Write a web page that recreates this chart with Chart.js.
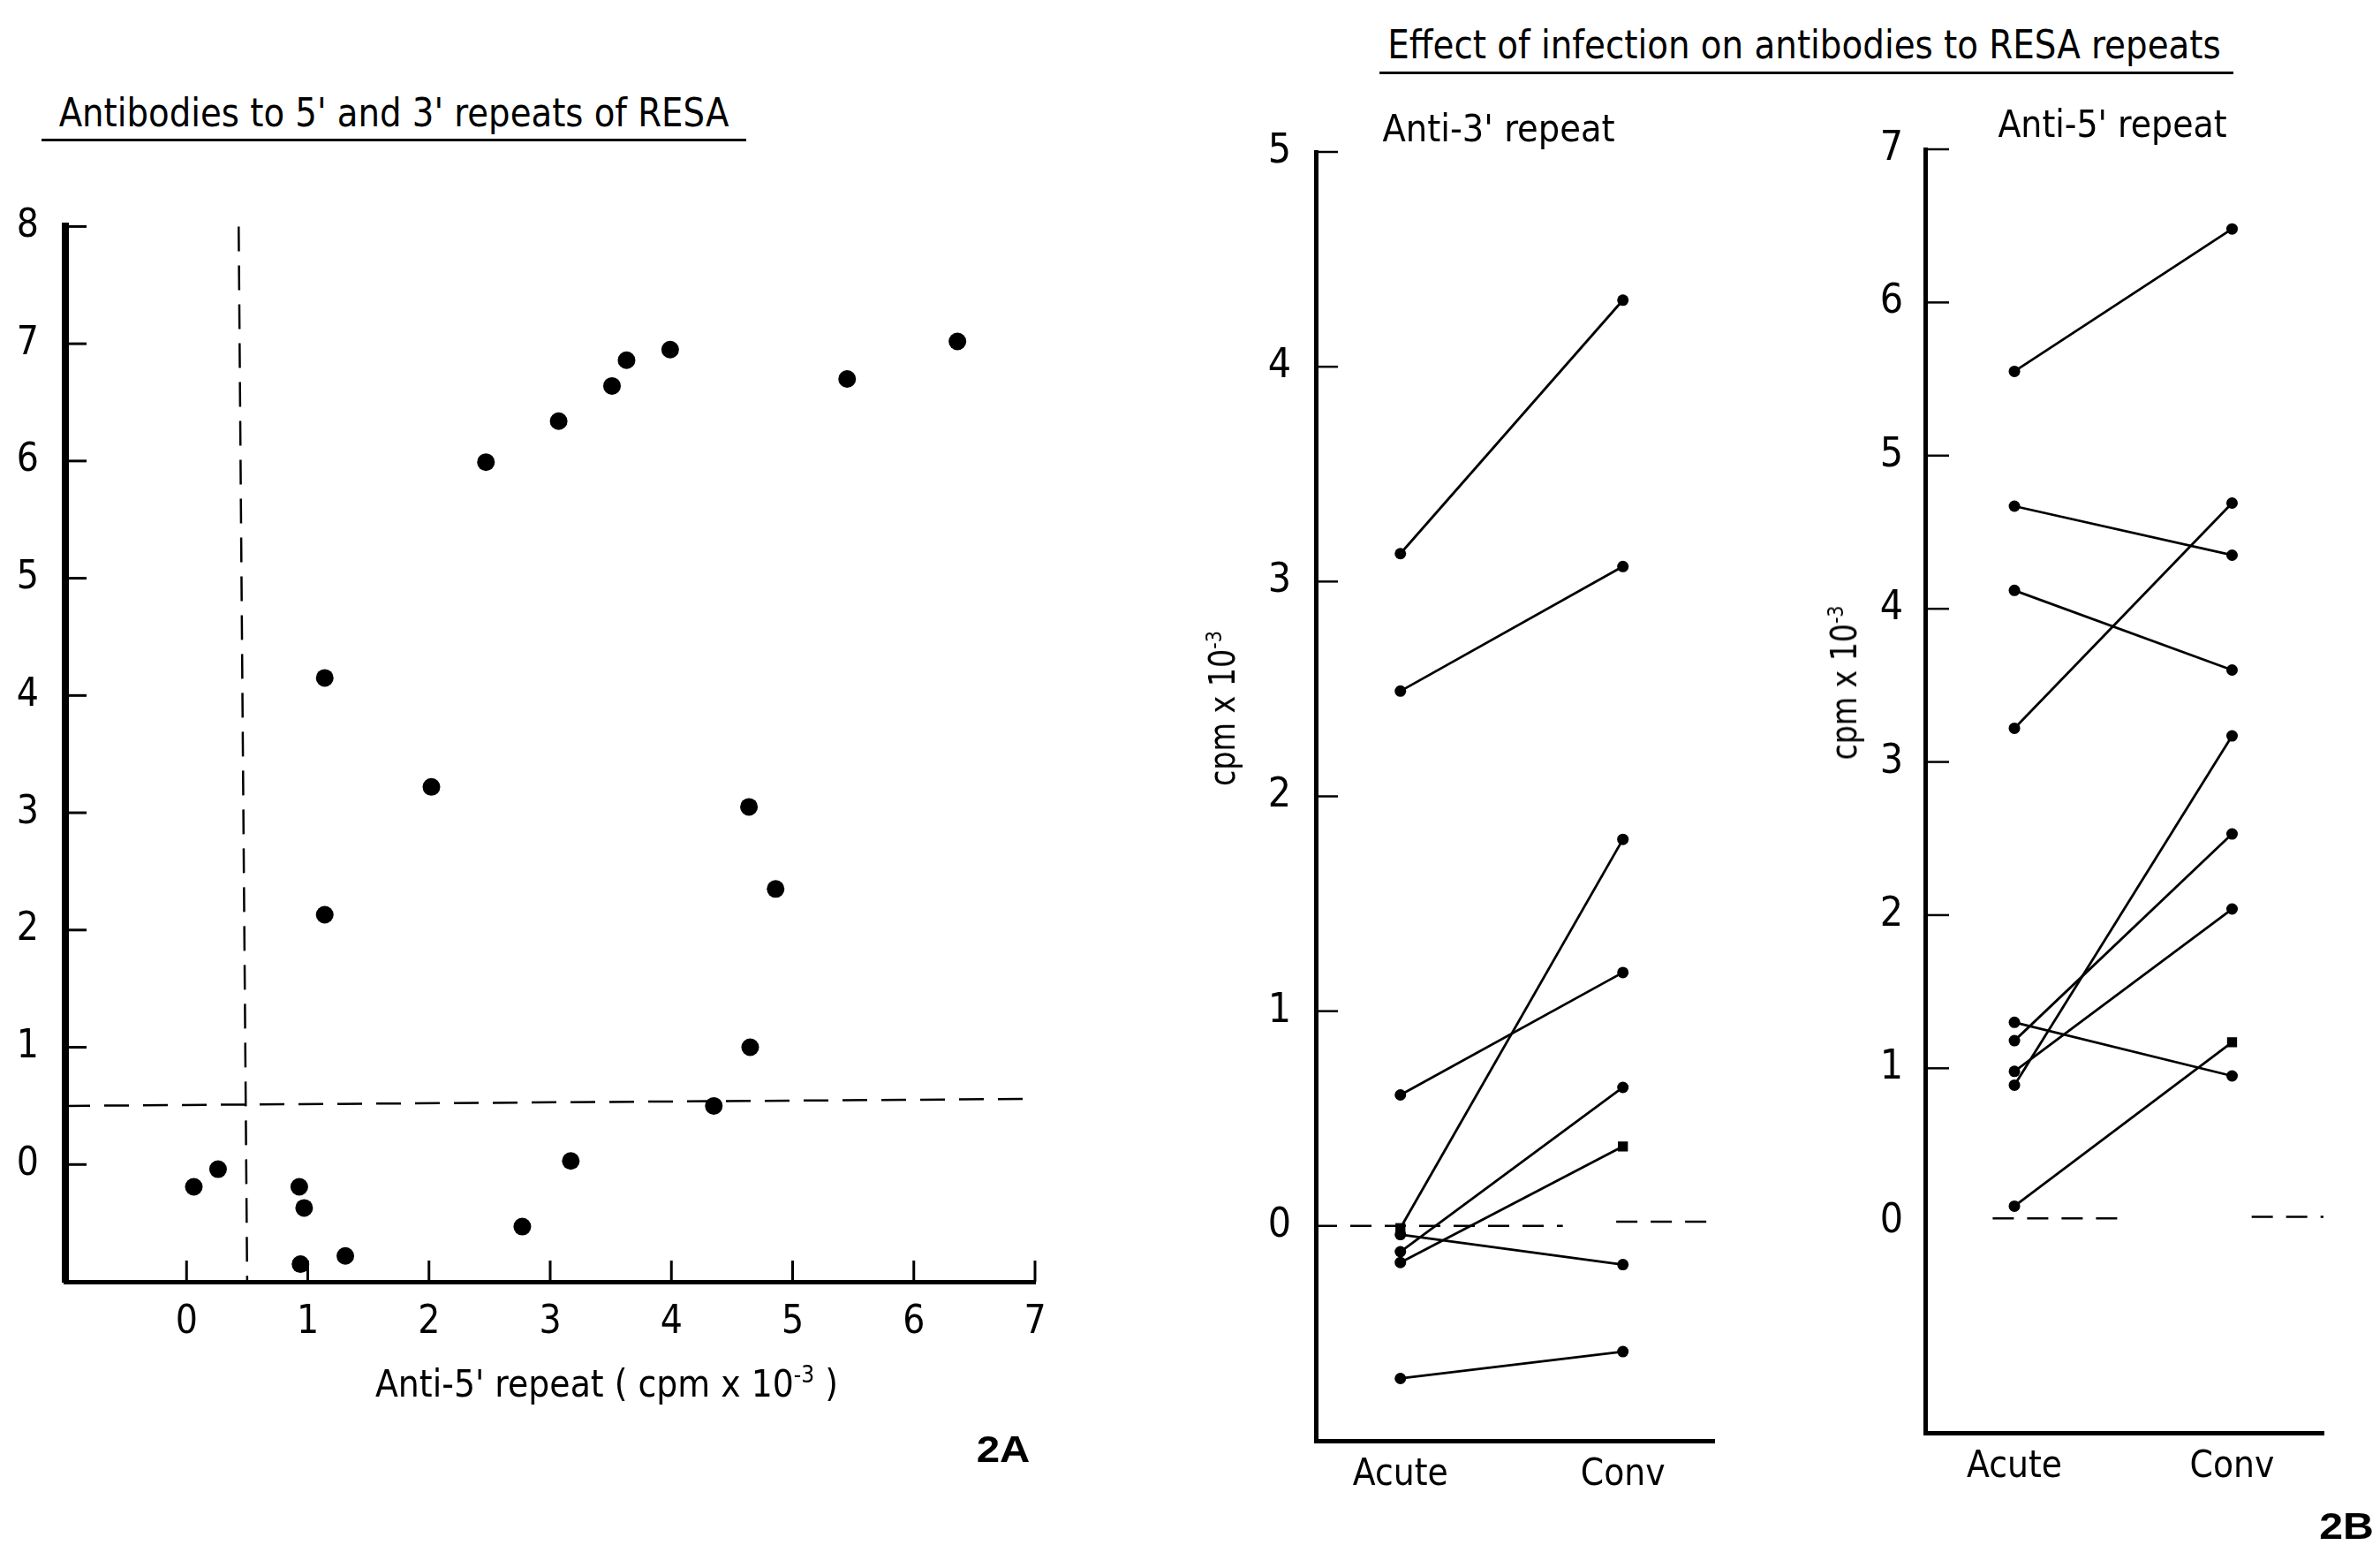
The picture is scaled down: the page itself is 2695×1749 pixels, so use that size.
<!DOCTYPE html>
<html>
<head>
<meta charset="utf-8">
<script src="https://cdn.jsdelivr.net/npm/chart.js@4.4.1/dist/chart.umd.min.js"></script>
<style>
  html, body { margin: 0; padding: 0; background: #fff; }
  #page { position: relative; width: 2695px; height: 1749px; overflow: hidden; background: #fff; }
  canvas { position: absolute; }
  .txt { position: absolute; white-space: nowrap; line-height: 1; color: #000;
         font-family: 'DejaVu Sans Condensed', 'DejaVu Sans', sans-serif; }
  .tag { font-family: 'Liberation Sans', Arial, sans-serif; font-weight: bold; }
  .rule { position: absolute; background: #000; height: 3px; }
  sup { font-size: 0.62em; vertical-align: 0.6em; line-height: 0; }
</style>
</head>
<body>
<div id="page">
  <canvas id="chart-2a" width="1240" height="1450" style="left:0px;top:200px"></canvas>
  <canvas id="chart-3p" width="600" height="1640" style="left:1380px;top:100px"></canvas>
  <canvas id="chart-5p" width="600" height="1640" style="left:2080px;top:100px"></canvas>

  <!-- 2A texts -->
  <div class="txt" data-cx="446" data-cy="128" data-w="759" style="font-size:44px">Antibodies to 5' and 3' repeats of RESA</div>
  <div class="rule" style="left:47px;top:157px;width:798px"></div>
  <div class="txt" data-cx="687" data-cy="1567" data-w="524" style="font-size:42px">Anti-5' repeat ( cpm x 10<sup>-3</sup> )</div>
  <div class="txt tag" data-cx="1136" data-cy="1641" data-w="61" style="font-size:42px">2A</div>

  <!-- 2B texts -->
  <div class="txt" data-cx="2043" data-cy="51" data-w="943" style="font-size:44px">Effect of infection on antibodies to RESA repeats</div>
  <div class="rule" style="left:1562px;top:81px;width:967px"></div>
  <div class="txt" data-cx="1697" data-cy="146" data-w="263" style="font-size:42px">Anti-3' repeat</div>
  <div class="txt" data-cx="2392" data-cy="141" data-w="259" style="font-size:42px">Anti-5' repeat</div>
  <div class="txt" data-cx="1384" data-cy="802" data-w="176" data-rot="-90" style="font-size:40px">cpm x 10<sup>-3</sup></div>
  <div class="txt" data-cx="2088" data-cy="773" data-w="175" data-rot="-90" style="font-size:40px">cpm x 10<sup>-3</sup></div>
  <div class="txt tag" data-cx="2657" data-cy="1728" data-w="62" style="font-size:42px">2B</div>
</div>

<script>
// ---- data (cpm x 10^-3) ----

// 2A: each subject, anti-5' repeat (x) against anti-3' repeat (y)
const anti5 = [2.47, 3.07, 3.51, 3.63, 3.99, 5.45, 6.36, 1.14, 2.02, 4.64, 4.86,
               1.14, 4.65, 4.35, 3.17, 0.26, 0.06, 0.93, 0.97, 2.77, 1.31, 0.94];
const anti3 = [5.99, 6.34, 6.64, 6.86, 6.95, 6.70, 7.02, 4.15, 3.22, 3.05, 2.35,
               2.13, 1.00, 0.50, 0.03, -0.04, -0.19, -0.19, -0.37, -0.53, -0.78, -0.85];

// cut-off lines (dashed)
const cutVX = [0.43, 0.50];
const cutVY = [8, -1];
const cutHX = [-1, 7];
const cutHY = [0.50, 0.56];

const ticks2AX = [0, 1, 2, 3, 4, 5, 6, 7];
const ticks2AY = [0, 1, 2, 3, 4, 5, 6, 7, 8];

// 2B: paired sera, acute vs convalescent
const stages = ['Acute', 'Conv'];
const stageVals = [0, 1];

const rep3Acute = [3.13, 2.49, -0.01, 0.61, -0.12, -0.17, -0.04, -0.71];
const rep3Conv  = [4.31, 3.07, 1.80, 1.18, 0.645, 0.37, -0.18, -0.585];
const rep3SquareAcute = [2];
const rep3SquareConv = [5];
const zero3X = [[-0.38, 0.73], [0.97, 1.40]];
const zero3Y = [[0, 0], [0.02, 0.02]];
const ticks3Y = [0, 1, 2, 3, 4, 5];

const rep5Acute = [5.55, 4.67, 4.12, 3.22, 0.89, 1.18, 0.98, 1.30, 0.10];
const rep5Conv  = [6.48, 4.35, 3.60, 4.69, 3.17, 2.53, 2.04, 0.95, 1.17];
const rep5SquareAcute = [];
const rep5SquareConv = [8];
const zero5X = [[-0.10, 0.51], [1.09, 1.42]];
const zero5Y = [[0.02, 0.02], [0.03, 0.03]];
const ticks5Y = [0, 1, 2, 3, 4, 5, 6, 7];

const FONT = "'DejaVu Sans Condensed', 'DejaVu Sans', sans-serif";

// tick marks drawn inward from the axes
const inTicks = {
  id: 'inTicks',
  afterDraw(chart, args, opts) {
    const ctx = chart.ctx;
    const area = chart.chartArea;
    ctx.save();
    ctx.strokeStyle = '#000';
    ctx.lineWidth = opts.width || 3;
    (opts.y || []).forEach(v => {
      const py = chart.scales.y.getPixelForValue(v);
      ctx.beginPath();
      ctx.moveTo(area.left, py);
      ctx.lineTo(area.left + opts.len, py);
      ctx.stroke();
    });
    (opts.x || []).forEach(v => {
      const px = chart.scales.x.getPixelForValue(v);
      ctx.beginPath();
      ctx.moveTo(px, area.bottom);
      ctx.lineTo(px, area.bottom - opts.len);
      ctx.stroke();
    });
    ctx.restore();
  }
};
Chart.register(inTicks);

function axis(o) {
  return {
    type: 'linear',
    min: o.min,
    max: o.max,
    afterBuildTicks: s => { s.ticks = o.ticks.map(v => ({ value: v })); },
    afterFit: s => {
      if (o.width != null) s.width = o.width;
      if (o.height != null) s.height = o.height;
    },
    grid: { display: false, drawTicks: false },
    border: { display: true, color: '#000', width: o.border },
    ticks: {
      color: '#000',
      padding: o.pad,
      autoSkip: false,
      maxRotation: 0,
      font: { family: FONT, size: o.size, weight: o.weight || 'normal' },
      callback: o.callback || (v => String(v))
    }
  };
}

function baseOptions(o) {
  return {
    responsive: false,
    animation: false,
    devicePixelRatio: 1,
    layout: { padding: o.padding },
    plugins: {
      legend: { display: false },
      tooltip: { enabled: false },
      inTicks: o.inTicks
    },
    scales: { x: o.x, y: o.y }
  };
}

function dashed(xs, ys, dash) {
  return {
    data: xs.map((x, i) => ({ x: x, y: ys[i] })),
    showLine: true,
    borderColor: '#000',
    borderWidth: 2.5,
    borderDash: dash,
    pointRadius: 0,
    clip: false
  };
}

// ---- 2A scatter ----
new Chart(document.getElementById('chart-2a'), {
  type: 'scatter',
  data: {
    datasets: [
      dashed(cutVX, cutVY, [28, 16]),
      dashed(cutHX, cutHY, [28, 16]),
      {
        data: anti5.map((x, i) => ({ x: x, y: anti3[i] })),
        pointRadius: 10,
        pointBackgroundColor: '#000',
        pointBorderColor: '#000',
        pointBorderWidth: 0,
        clip: false
      }
    ]
  },
  options: baseOptions({
    padding: { left: 0, top: 49, right: 68, bottom: 139 },
    inTicks: { x: ticks2AX, y: ticks2AY, len: 24, width: 3 },
    x: axis({ min: -1, max: 7, ticks: ticks2AX, height: 60, border: 5, pad: 20, size: 44 }),
    y: axis({ min: -1, max: 8, ticks: ticks2AY, width: 74, border: 8, pad: 30, size: 44 })
  })
});

// ---- 2B paired plots ----
function pairedChart(id, acute, conv, sqA, sqC, zx, zy, yTicks, o) {
  const datasets = [];
  zx.forEach((seg, i) => datasets.push(dashed(seg, zy[i], [24, 15])));
  acute.forEach((a, i) => {
    datasets.push({
      data: [{ x: stageVals[0], y: a }, { x: stageVals[1], y: conv[i] }],
      showLine: true,
      borderColor: '#000',
      borderWidth: 2.8,
      pointRadius: [sqA.includes(i) ? 8 : 6.5, sqC.includes(i) ? 8 : 6.5],
      pointBackgroundColor: '#000',
      pointBorderColor: '#000',
      pointBorderWidth: 0,
      pointStyle: [sqA.includes(i) ? 'rect' : 'circle', sqC.includes(i) ? 'rect' : 'circle'],
      clip: false
    });
  });
  return new Chart(document.getElementById(id), {
    type: 'scatter',
    data: { datasets: datasets },
    options: baseOptions({
      padding: o.padding,
      inTicks: { y: yTicks.filter(v => v !== 0), len: o.tickLen, width: 2.5 },
      x: axis({ min: o.xmin, max: o.xmax, ticks: stageVals, height: 80, border: 5, pad: 14, size: 42,
                callback: v => stages[stageVals.indexOf(v)] }),
      y: axis({ min: o.ymin, max: o.ymax, ticks: yTicks, width: o.yw, border: 5, pad: o.ypad, size: 46 })
    })
  });
}

pairedChart('chart-3p', rep3Acute, rep3Conv, rep3SquareAcute, rep3SquareConv, zero3X, zero3Y, ticks3Y, {
  padding: { left: 0, top: 72, right: 39, bottom: 29 },
  xmin: -0.38, xmax: 1.41, ymin: -1, ymax: 5, yw: 110, ypad: 28, tickLen: 25
});

pairedChart('chart-5p', rep5Acute, rep5Conv, rep5SquareAcute, rep5SquareConv, zero5X, zero5Y, ticks5Y, {
  padding: { left: 0, top: 69, right: 49, bottom: 38 },
  xmin: -0.41, xmax: 1.42, ymin: -1.38, ymax: 7, yw: 100, ypad: 25, tickLen: 27
});

// ---- place and fit the text labels ----
document.querySelectorAll('.txt').forEach(el => {
  const w = el.offsetWidth;
  const s = Number(el.dataset.w) / w;
  const rot = Number(el.dataset.rot || 0);
  el.style.left = el.dataset.cx + 'px';
  el.style.top = el.dataset.cy + 'px';
  el.style.transform = 'translate(-50%, -50%) rotate(' + rot + 'deg) scaleX(' + s + ')';
});
</script>
</body>
</html>
